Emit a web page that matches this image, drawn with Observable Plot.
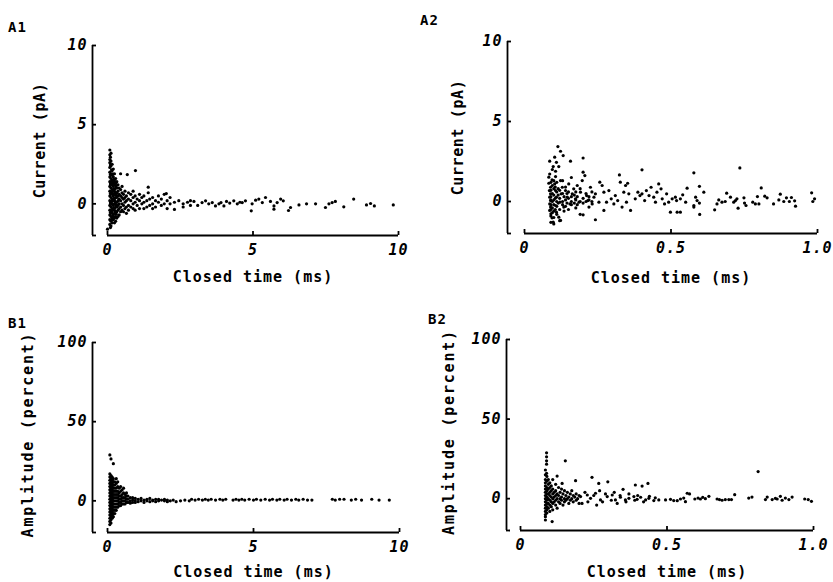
<!DOCTYPE html>
<html><head><meta charset="utf-8">
<script src="https://cdn.jsdelivr.net/npm/d3@7"></script>
<script src="https://cdn.jsdelivr.net/npm/@observablehq/plot@0.6"></script>
<style>
body{margin:0;background:#fff;}
#fig{position:relative;width:833px;height:582px;font-family:"DejaVu Sans Mono",monospace;font-weight:bold;color:#000;overflow:hidden;}
.panel{position:absolute;}
.tag{position:absolute;font-size:14px;font-weight:bold;letter-spacing:1px;line-height:14px;}
</style></head><body><div id="fig"></div>
<script>
// ---- data (closed time in ms, current in pA / amplitude in percent) ----
const a1Points = [
[0.08,3.4],[0.08,3.1],[0.08,2.8],[0.08,2.6],[0.08,2.3],[0.08,2.0],[0.08,1.7],[0.08,1.4],[0.08,1.1],[0.08,0.8],[0.08,0.5],[0.08,0.2],[0.08,-0.1],[0.08,-0.4],[0.08,-0.7],[0.08,-1.0],[0.08,-1.3],
[0.12,3.2],[0.12,2.7],[0.12,2.4],[0.12,1.9],[0.12,1.6],[0.12,1.3],[0.12,1.0],[0.12,0.7],[0.12,0.4],[0.12,0.1],[0.12,-0.2],[0.12,-0.5],[0.12,-0.8],[0.12,-1.1],[0.12,-1.4],
[0.16,2.5],[0.16,2.1],[0.16,1.8],[0.16,1.5],[0.16,1.2],[0.16,0.9],[0.16,0.6],[0.16,0.3],[0.16,0.0],[0.16,-0.3],[0.16,-0.6],[0.16,-0.9],[0.16,-1.2],
[0.2,2.2],[0.2,1.7],[0.2,1.4],[0.2,1.1],[0.2,0.8],[0.2,0.5],[0.2,0.2],[0.2,-0.1],[0.2,-0.4],[0.2,-0.7],[0.2,-1.0],
[0.24,1.9],[0.24,1.5],[0.24,1.2],[0.24,0.9],[0.24,0.6],[0.24,0.3],[0.24,0.0],[0.24,-0.3],[0.24,-0.6],[0.24,-0.9],[0.24,-1.2],
[0.28,1.6],[0.28,1.3],[0.28,1.0],[0.28,0.7],[0.28,0.4],[0.28,0.1],[0.28,-0.2],[0.28,-0.5],[0.28,-0.8],[0.28,-1.1],
[0.32,1.4],[0.32,1.0],[0.32,0.7],[0.32,0.4],[0.32,0.1],[0.32,-0.2],[0.32,-0.5],[0.32,-0.9],
[0.36,1.2],[0.36,0.8],[0.36,0.5],[0.36,0.2],[0.36,-0.1],[0.36,-0.4],[0.36,-0.8],
[0.1,2.95],[0.1,2.45],[0.1,1.85],[0.1,1.25],[0.1,0.65],[0.1,0.05],[0.1,-0.55],[0.14,2.15],[0.14,1.45],[0.14,0.75],[0.14,0.15],[0.14,-0.45],[0.14,-1.0],[0.18,1.9],[0.18,1.3],[0.18,0.65],[0.18,-0.05],[0.18,-0.75],[0.22,1.55],[0.22,0.95],[0.22,0.35],[0.22,-0.25],[0.22,-0.85],[0.26,1.35],[0.26,0.75],[0.26,0.15],[0.26,-0.45],[0.3,1.15],[0.3,0.55],[0.3,-0.05],[0.3,-0.65],
[0.0,-1.6],[0.1,-1.5],
[0.4,1.0],[0.4,0.6],[0.4,0.3],[0.4,0.0],[0.4,-0.3],[0.4,-0.7],
[0.45,1.9],[0.45,0.9],[0.45,0.5],[0.45,0.2],[0.45,-0.2],[0.45,-0.5],
[0.5,1.1],[0.5,0.7],[0.5,0.4],[0.5,0.0],[0.5,-0.4],
[0.55,0.6],[0.55,0.3],[0.55,-0.1],[0.55,-0.5],
[0.6,0.8],[0.6,0.4],[0.6,0.1],[0.6,-0.3],
[0.68,1.85],[0.65,0.5],[0.65,0.2],[0.65,-0.2],[0.65,-0.6],
[0.72,0.7],[0.72,0.3],[0.72,-0.1],[0.72,-0.4],
[0.8,0.6],[0.8,0.2],[0.8,-0.2],
[0.88,0.8],[0.88,0.4],[0.88,0.0],[0.88,-0.3],
[0.96,2.1],[0.95,0.5],[0.95,0.1],[0.95,-0.4],
[1.02,0.3],[1.02,-0.1],
[1.1,0.6],[1.1,0.2],[1.1,-0.3],
[1.18,0.4],[1.18,0.0],
[1.25,0.5],[1.25,0.1],[1.25,-0.3],
[1.4,1.05],[1.4,0.7],[1.35,0.2],[1.35,-0.2],
[1.45,0.3],[1.45,-0.1],
[1.55,0.4],[1.55,0.0],[1.55,-0.3],
[1.65,0.2],[1.65,-0.2],
[1.75,0.5],[1.75,0.1],
[1.85,0.3],[1.85,-0.1],
[1.95,0.6],[1.95,0.0],
[2.02,0.65],[2.05,0.2],[2.05,-0.3],
[2.15,0.4],[2.15,0.0],
[2.3,0.1],[2.3,-0.35],
[2.45,0.2],[2.6,0.0],[2.6,-0.2],[2.75,0.1],[2.85,-0.1],[2.85,0.2],[2.97,0.15],[3.1,-0.1],
[3.25,0.08],[3.37,0.19],[3.48,0.0],[3.6,0.08],[3.71,-0.13],[3.83,0.0],[3.9,0.08],[4.0,-0.13],[4.09,0.15],[4.2,0.05],[4.34,0.19],[4.46,0.0],[4.55,0.1],[4.63,0.08],[4.74,0.19],[4.94,-0.44],[4.97,0.0],[5.09,0.23],[5.2,0.3],[5.32,0.08],[5.43,0.4],[5.6,0.15],[5.72,-0.13],[5.72,-0.34],[5.83,0.08],[5.95,0.3],[6.04,0.19],[6.22,-0.42],[6.29,-0.23],[6.58,-0.07],[6.84,0.0],[7.15,0.0],[7.49,-0.23],[7.61,0.0],[7.72,0.08],[7.83,0.15],[8.12,-0.19],[8.46,0.3],[8.9,-0.07],[9.04,0.02],[9.17,-0.13],[9.82,-0.07]
];

const a2Points = [
[0.114,3.43],[0.123,3.14],[0.132,2.87],[0.103,2.77],[0.086,2.52],[0.109,2.45],[0.098,2.18],[0.117,2.18],[0.157,2.52],[0.2,2.72],[0.106,1.89],[0.086,1.72],[0.083,1.52],[0.094,1.35],[0.083,1.14],[0.089,0.89],[0.085,0.68],[0.089,0.48],[0.086,0.27],[0.089,0.06],[0.086,-0.15],[0.089,-0.35],[0.086,-0.56],[0.09,-0.77],[0.094,-1.02],[0.098,-1.29],
[0.106,1.56],[0.103,1.1],[0.106,0.68],[0.109,0.27],[0.106,-0.25],[0.109,-0.67],[0.117,-0.98],[0.123,-1.18],
[0.123,1.31],[0.129,0.89],[0.125,0.48],[0.121,-0.04],[0.134,-0.35],[0.14,0.68],[0.146,0.27],[0.151,1.1],[0.155,-0.15],[0.163,0.48],[0.168,0.79],[0.174,0.17],[0.18,1.0],[0.186,-0.04],[0.191,0.58],[0.2,1.83],[0.206,1.62],[0.197,1.31],[0.212,0.37],[0.216,0.06],[0.22,-0.35],[0.225,0.89],[0.231,-0.15],[0.237,0.27],[0.242,0.48],[0.242,-1.14],[0.2,-0.83],[0.254,-0.04],[0.257,1.21],[0.265,1.0],[0.271,0.58],[0.271,-0.56],[0.28,-0.04],[0.288,0.68],[0.296,0.17],[0.305,-0.15],[0.31,0.37],[0.318,0.06],[0.324,1.66],[0.327,1.21],[0.333,-0.35],[0.339,0.58],[0.345,1.0],[0.348,-0.04],[0.352,1.14],[0.356,0.48],[0.362,-0.56],[0.378,0.17],[0.387,0.58],[0.394,0.37],[0.401,1.98],[0.401,0.48],[0.41,0.06],[0.416,0.68],[0.425,0.37],[0.432,0.89],[0.441,0.27],[0.447,-0.04],[0.452,0.58],[0.458,1.1],[0.466,0.79],[0.47,0.17],[0.478,-0.15],[0.485,0.48],[0.492,-0.04],[0.498,-0.67],[0.504,0.17],[0.515,0.27],[0.521,-0.67],
[0.09,1.2],[0.09,0.7],[0.09,0.3],[0.09,0.1],[0.09,-0.2],[0.09,-0.5],[0.09,-0.9],[0.09,-1.3],
[0.095,2.0],[0.095,1.0],[0.095,0.5],[0.095,0.0],[0.095,-0.4],[0.095,-0.7],
[0.1,1.3],[0.1,0.8],[0.1,0.4],[0.1,0.1],[0.1,-0.2],[0.1,-0.6],[0.1,-1.0],[0.1,-1.4],
[0.105,0.9],[0.105,0.2],[0.105,-0.5],
[0.11,1.2],[0.11,0.6],[0.11,0.0],[0.11,-0.3],[0.11,-0.8],
[0.115,0.4],[0.115,-0.1],[0.115,0.8],
[0.12,0.7],[0.12,0.2],[0.12,-0.5],[0.12,-1.2],
[0.13,0.5],[0.13,0.0],[0.13,-0.2],[0.13,1.3],
[0.135,0.3],[0.135,-0.6],
[0.14,0.1],[0.14,0.9],[0.14,-0.3],
[0.145,0.5],[0.145,-0.1],
[0.15,0.2],[0.15,-0.5],[0.15,0.6],
[0.16,0.0],[0.16,0.3],[0.16,-0.2],[0.16,1.5],
[0.17,0.4],[0.17,-0.1],
[0.175,0.6],[0.175,0.1],[0.175,-0.4],
[0.18,-0.2],[0.18,0.3],
[0.19,0.0],[0.19,0.8],[0.19,-0.8],
[0.2,0.2],[0.2,-0.1],
[0.21,0.5],[0.21,0.0],
[0.22,0.1],[0.22,0.3],
[0.23,0.0],[0.23,0.6],
[0.578,1.79],[0.735,2.1],[0.555,0.83],[0.597,0.95],[0.612,0.58],[0.54,0.42],[0.532,0.17],[0.519,0.06],[0.55,-0.04],[0.584,0.27],[0.589,0.06],[0.597,-0.1],[0.578,-0.25],[0.578,-0.35],[0.532,-0.67],[0.598,-0.81],[0.649,-0.52],[0.657,-0.15],[0.663,0.1],[0.674,-0.04],[0.69,0.52],[0.685,0.0],[0.703,0.27],[0.714,-0.04],[0.72,0.06],[0.725,0.17],[0.729,-0.42],[0.749,0.23],[0.751,-0.1],[0.756,-0.25],[0.779,-0.04],[0.788,-0.15],[0.795,0.31],[0.8,-0.15],[0.808,0.85],[0.82,0.33],[0.828,0.23],[0.85,-0.15],[0.868,0.1],[0.873,0.46],[0.885,0.0],[0.894,0.23],[0.904,0.0],[0.911,0.25],[0.922,0.04],[0.925,-0.29],[0.98,0.54],[0.984,0.0],[0.99,0.17]
];

const b1Points = [
[0.08,29],[0.12,26.5],[0.2,23.5],
[0.08,17],[0.08,15],[0.08,13],[0.08,11],[0.08,9],[0.08,7],[0.08,5],[0.08,3],[0.08,1],[0.08,-1],[0.08,-3],[0.08,-5],[0.08,-7],[0.08,-9],[0.08,-11],[0.08,-13],[0.08,-15],
[0.12,16],[0.12,14],[0.12,12],[0.12,10],[0.12,8],[0.12,6],[0.12,4],[0.12,2],[0.12,0],[0.12,-2],[0.12,-4],[0.12,-6],[0.12,-8],[0.12,-10],[0.12,-12],[0.12,-14],
[0.16,15],[0.16,13],[0.16,11],[0.16,9],[0.16,7],[0.16,5],[0.16,3],[0.16,1],[0.16,-1],[0.16,-3],[0.16,-5],[0.16,-7],[0.16,-9],[0.16,-11],
[0.2,14],[0.2,12],[0.2,10],[0.2,8],[0.2,6],[0.2,4],[0.2,2],[0.2,0],[0.2,-2],[0.2,-4],[0.2,-6],[0.2,-8],[0.2,-10],
[0.25,12],[0.25,10],[0.25,8],[0.25,6],[0.25,4],[0.25,2],[0.25,0],[0.25,-2],[0.25,-4],[0.25,-6],[0.25,-8],
[0.3,14],[0.3,11],[0.3,8],[0.3,6],[0.3,4],[0.3,2],[0.3,0],[0.3,-2],[0.3,-4],[0.3,-6],
[0.35,12],[0.35,9],[0.35,6],[0.35,4],[0.35,2],[0.35,0],[0.35,-2],[0.35,-4],
[0.4,8],[0.4,5],[0.4,3],[0.4,1],[0.4,-1],[0.4,-3],
[0.45,9],[0.45,6],[0.45,3],[0.45,1],[0.45,-1],[0.45,-3],
[0.5,7],[0.5,4],[0.5,2],[0.5,0],[0.5,-2],
[0.55,8],[0.55,5],[0.55,2],[0.55,0],[0.55,-2],
[0.6,4],[0.6,2],[0.6,0],[0.6,-2],
[0.65,5],[0.65,3],[0.65,1],[0.65,-1],
[0.7,3],[0.7,1],[0.7,-1],
[0.78,2],[0.78,0],[0.78,-1.5],
[0.86,2],[0.86,0.5],[0.86,-1],
[0.95,1.5],[0.95,0],[0.95,-1],
[1.05,1],[1.05,-0.5],[1.15,1.5],[1.15,0],[1.25,0.5],[1.25,-1],[1.35,1],[1.35,0],[1.45,1.5],[1.45,-0.5],[1.55,0.5],[1.55,0],[1.65,1],[1.65,-0.5],[1.75,0],[1.75,1],[1.85,0.5],[1.95,0],[1.95,1],[2.05,-0.5],[2.05,0.5],[2.15,0],[2.25,0.5],[2.35,-0.5],[2.5,0],[2.65,0.5],[2.8,0],[2.88,1],
[3.0,0.5],[3.12,1],[3.25,0.5],[3.35,1],[3.45,0.5],[3.55,1],[3.7,0.5],[3.85,1],[3.95,0.5],[4.05,1],[4.3,0.5],[4.4,1],[4.5,0.5],[4.6,1],[4.7,0.5],[4.85,1],[5.0,0.5],[5.1,1],[5.25,0.5],[5.4,1],[5.55,0.5],[5.65,1],[5.8,0.5],[5.9,1],[6.05,0.5],[6.15,1],[6.3,0.5],[6.45,1],[6.55,0.5],[6.7,1],[6.85,0.5],[7.0,0.5],
[7.7,1],[7.8,0.5],[7.95,1],[8.1,1],[8.35,0.5],[8.5,1],[8.7,0.5],[9.05,1],[9.3,0.5],[9.65,0.5]
];

const b2Points = [
[0.089,28.8],[0.089,26.3],[0.089,23.8],[0.089,21.7],[0.153,23.8],[0.089,15.9],[0.125,14.2],[0.142,9.6],[0.188,11.3],[0.244,13.4],[0.267,9.6],[0.298,10.6],[0.35,5.9],[0.392,8.6],[0.415,7.9],[0.435,9.6],[0.108,-14.4],[0.085,-11.3],[0.085,-13.4],
[0.085,18],[0.085,15],[0.085,12],[0.085,10],[0.085,8],[0.085,6],[0.085,4],[0.085,2],[0.085,0],[0.085,-2],[0.085,-4],[0.085,-6],[0.085,-8],[0.085,-10],
[0.09,14],[0.09,11],[0.09,7],[0.09,5],[0.09,3],[0.09,1],[0.09,-1],[0.09,-3],[0.09,-5],[0.09,-7],[0.09,-9],
[0.095,12],[0.095,9],[0.095,6],[0.095,3],[0.095,0],[0.095,-3],[0.095,-6],
[0.1,10],[0.1,7],[0.1,4],[0.1,2],[0.1,-1],[0.1,-4],[0.1,-8],
[0.105,8],[0.105,5],[0.105,1],[0.105,-2],[0.105,-5],
[0.11,12],[0.11,6],[0.11,3],[0.11,0],[0.11,-3],[0.11,-7],
[0.115,4],[0.115,1],[0.115,-2],
[0.12,9],[0.12,5],[0.12,2],[0.12,-1],[0.12,-4],
[0.125,3],[0.125,0],[0.125,-6],
[0.13,7],[0.13,2],[0.13,-2],
[0.135,4],[0.135,0],[0.135,-3],
[0.14,6],[0.14,1],[0.14,-1],
[0.145,3],[0.145,-4],
[0.15,5],[0.15,0],[0.15,-2],
[0.155,2],[0.155,-1],
[0.16,4],[0.16,0],
[0.165,1],[0.165,-3],
[0.17,3],[0.17,-1],
[0.175,5],[0.175,0],
[0.18,2],[0.18,-2],
[0.185,1],[0.19,3],[0.19,-1],[0.195,0],[0.2,2],[0.2,-3],
[0.21,-3],[0.22,4],[0.23,-2],[0.25,2],[0.26,-4],[0.27,5],[0.28,-2],[0.29,3],[0.31,-1],[0.32,4],[0.33,-3],[0.34,2],[0.36,-2],[0.37,3],[0.39,-1],[0.4,2],[0.42,-2],[0.44,1.5],[0.46,0.5],
[0.205,1.3],[0.228,2.3],[0.239,0.24],[0.256,3.4],[0.273,-0.8],[0.296,1.3],[0.313,2.3],[0.324,-0.8],[0.341,0.9],[0.358,-0.8],[0.37,0.24],[0.387,1.3],[0.398,-0.4],[0.41,0.9],[0.427,-0.8],[0.438,0.24],[0.455,-1.2],[0.472,-0.8],[0.495,-0.8],[0.512,-0.4],[0.523,-1.2],
[0.535,-1.25],[0.546,-0.2],[0.557,0.4],[0.569,3.4],[0.577,3.0],[0.563,-1.9],[0.595,-0.2],[0.606,0.4],[0.614,-0.2],[0.622,0.85],[0.631,0.0],[0.643,1.5],[0.671,-0.2],[0.679,-0.6],[0.688,-1.0],[0.699,-0.6],[0.711,-0.6],[0.72,-0.6],[0.731,2.5],[0.779,0.4],[0.79,1.0],[0.811,17.0],[0.836,-0.6],[0.842,1.0],[0.859,-0.6],[0.87,0.2],[0.876,-0.2],[0.887,1.5],[0.893,-1.0],[0.904,0.4],[0.916,-0.6],[0.927,1.0],[0.97,-0.2],[0.982,-0.6],[0.993,-1.7]
];

// axis definitions
const longXTicks = [0, 5, 10];
const shortXTicks = [0, 0.5, 1];
const currentTicks = [-2, 0, 5, 10];
const percentTicks = [-20, 0, 50, 100];
const xLabel = "Closed time (ms)";
const yLabels = ["Current (pA)", "Current (pA)", "Amplitude (percent)", "Amplitude (percent)"];
const tags = ["A1", "A2", "B1", "B2"];

function panel({points, xDomain, yDomain, xTicks, yTicks, xFmt, yLabel, width, height, ml, mr, mt, mb, axisDx, yLabelDx, yLabelDy, yLabelSpacing, xLabelDy}) {
  const [x0, x1] = xDomain, [y0, y1] = yDomain;
  const node = Plot.plot({
    width, height, marginLeft: ml, marginRight: mr, marginTop: mt, marginBottom: mb,
    style: {fontFamily: "'DejaVu Sans Mono', monospace", fontSize: "15px", fontWeight: "bold", color: "black", background: "transparent", letterSpacing: "1px", overflow: "visible"},
    x: {domain: xDomain},
    y: {domain: yDomain},
    marks: [
      Plot.ruleX([x0], {y1: y0, y2: y1, dx: axisDx, strokeWidth: 1.8}),
      Plot.ruleY([y0], {x1: x0, x2: x1, strokeWidth: 1.8}),
      Plot.axisY({ticks: yTicks, tickSize: -4, tickPadding: 9, dx: axisDx, strokeWidth: 1.8, fontStyle: "italic", tickFormat: d => d === y0 ? "" : String(d), label: null}),
      Plot.axisX({ticks: xTicks, tickSize: -4, tickPadding: 13, strokeWidth: 1.8, fontStyle: "italic", tickFormat: xFmt, label: null}),
      Plot.text([yLabel], {text: d => d, frameAnchor: "left", textAnchor: "middle", dx: yLabelDx, dy: yLabelDy, rotate: -90}),
      Plot.text([xLabel], {text: d => d, frameAnchor: "bottom", textAnchor: "middle", dy: xLabelDy}),
      Plot.dot(points, {x: d => d[0], y: d => d[1], r: 1.6, fill: "black"})
    ]
  });
  d3.select(node).selectAll("text").filter(function() { return this.textContent === yLabel; })
    .style("letter-spacing", yLabelSpacing + "px");
  return node;
}

const fig = document.getElementById("fig");
function place(node, left, top) {
  node.classList.add("panel");
  node.style.left = left + "px";
  node.style.top = top + "px";
  fig.appendChild(node);
}
const fmtLong = d => String(d);
const fmtShort = d => d === 0 ? "0" : d.toFixed(1);

place(panel({points: a1Points, xDomain: [0, 10], yDomain: [-2, 10], xTicks: longXTicks, yTicks: currentTicks, xFmt: fmtLong, yLabel: yLabels[0],
  width: 416, height: 300, ml: 107, mr: 18, mt: 45, mb: 65, axisDx: -15, yLabelDx: -67, yLabelDy: 0, yLabelSpacing: 0.6, xLabelDy: 46}), 0, 0);
place(panel({points: a2Points, xDomain: [0, 1], yDomain: [-2, 10], xTicks: shortXTicks, yTicks: currentTicks, xFmt: fmtShort, yLabel: yLabels[1],
  width: 417, height: 300, ml: 108, mr: 16, mt: 41, mb: 67, axisDx: -17, yLabelDx: -66, yLabelDy: 0, yLabelSpacing: 0.6, xLabelDy: 49}), 416, 0);
place(panel({points: b1Points, xDomain: [0, 10], yDomain: [-20, 100], xTicks: longXTicks, yTicks: percentTicks, xFmt: fmtLong, yLabel: yLabels[2],
  width: 416, height: 292, ml: 107, mr: 17, mt: 52, mb: 50, axisDx: -15, yLabelDx: -79, yLabelDy: -3, yLabelSpacing: 1.8, xLabelDy: 44}), 0, 290);
place(panel({points: b2Points, xDomain: [0, 1], yDomain: [-20, 100], xTicks: shortXTicks, yTicks: percentTicks, xFmt: fmtShort, yLabel: yLabels[3],
  width: 417, height: 292, ml: 104, mr: 20, mt: 49, mb: 52, axisDx: -14, yLabelDx: -71, yLabelDy: -3, yLabelSpacing: 1.8, xLabelDy: 46}), 416, 290);

const tagPos = [[8, 20], [420, 13], [8, 316], [428, 312]];
tags.forEach((t, i) => {
  const d = document.createElement("div");
  d.className = "tag";
  d.textContent = t;
  d.style.left = tagPos[i][0] + "px";
  d.style.top = tagPos[i][1] + "px";
  fig.appendChild(d);
});
</script>
</body></html>
